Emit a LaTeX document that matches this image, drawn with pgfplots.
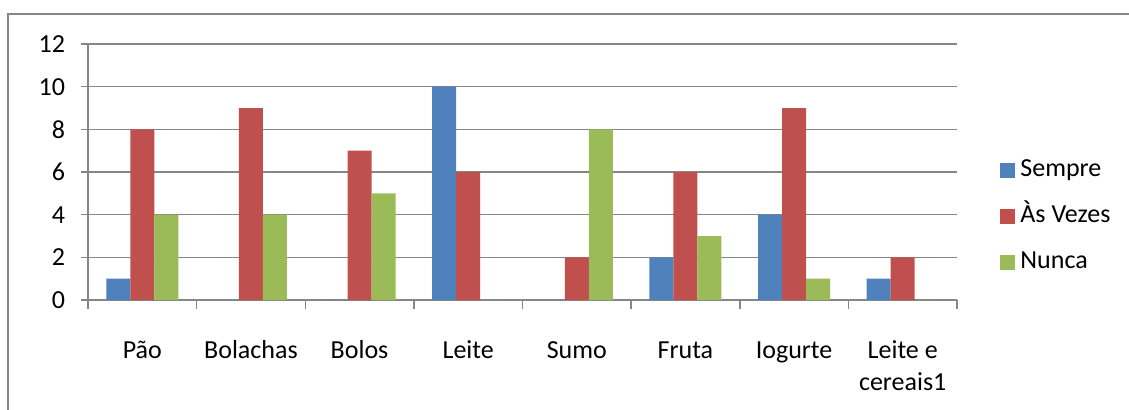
\documentclass[border=0pt]{standalone}
\usepackage{pgfplots}
\pgfplotsset{compat=1.18}
\usepackage{fontspec}
\setmainfont{Carlito}
\definecolor{sblue}{HTML}{4F81BD}
\definecolor{sred}{HTML}{C0504D}
\definecolor{sgreen}{HTML}{9BBB59}
\definecolor{gline}{RGB}{134,134,134}
\begin{document}
\fontsize{13pt}{16pt}\selectfont
\begin{tikzpicture}
\path[use as bounding box] (0,0) rectangle (564.5pt,204.5pt);
\draw[gline, line width=1pt] (4pt,-2pt) -- (4pt,197.5pt) -- (566pt,197.5pt);
\begin{axis}[
  at={(44pt,54.5pt)}, anchor=south west,
  scale only axis, width=434.5pt, height=128pt,
  xmin=-0.5, xmax=7.5, ymin=0, ymax=12,
  ytick={0,2,...,12},
  xtick={0,...,7},
  xticklabels={\strut Pão,\strut Bolachas,\strut Bolos,\strut Leite,\strut Sumo,\strut Fruta,\strut Iogurte,{\strut Leite e\\cereais1}},
  minor xtick={-0.5,0.5,...,7.5},
  axis x line*=bottom, axis y line*=left,
  axis line style={gline, line width=0.75pt},
  ymajorgrids, grid style={gline, line width=0.75pt},
  major x tick style={draw=none},
  tick style={gline, line width=0.75pt},
  tick align=outside,
  major tick length=3.5pt, minor tick length=4.5pt,
  ticklabel style={font=\fontsize{13pt}{16pt}\selectfont},
  /pgf/number format/assume math mode=true,
  yticklabel style={anchor=east, xshift=-3.5pt},
  xticklabel style={anchor=north, align=center, inner sep=0pt, yshift=-14.3pt},
  ybar=0pt, bar width=12pt,
  legend style={at={(axis description cs:1.0495,0.328)}, anchor=west, draw=none, fill=none,
    inner sep=0pt, row sep=11pt, font=\fontsize{13pt}{16pt}\selectfont,
    nodes={inner sep=0pt, text height=9pt, text depth=3pt},
    /tikz/every odd column/.append style={column sep=2.5pt}},
  legend cell align=left,
]
\addplot[fill=sblue, draw=none, legend image code/.code={\fill[sblue] (0pt,-3.75pt) rectangle (7.5pt,3.75pt);}]
  coordinates {(0,1) (1,0) (2,0) (3,10) (4,0) (5,2) (6,4) (7,1)};
\addplot[fill=sred, draw=none, legend image code/.code={\fill[sred] (0pt,-3.75pt) rectangle (7.5pt,3.75pt);}]
  coordinates {(0,8) (1,9) (2,7) (3,6) (4,2) (5,6) (6,9) (7,2)};
\addplot[fill=sgreen, draw=none, legend image code/.code={\fill[sgreen] (0pt,-3.75pt) rectangle (7.5pt,3.75pt);}]
  coordinates {(0,4) (1,4) (2,5) (3,0) (4,8) (5,3) (6,1) (7,0)};
\legend{Sempre,Às Vezes,Nunca}
\end{axis}
\end{tikzpicture}
\end{document}
